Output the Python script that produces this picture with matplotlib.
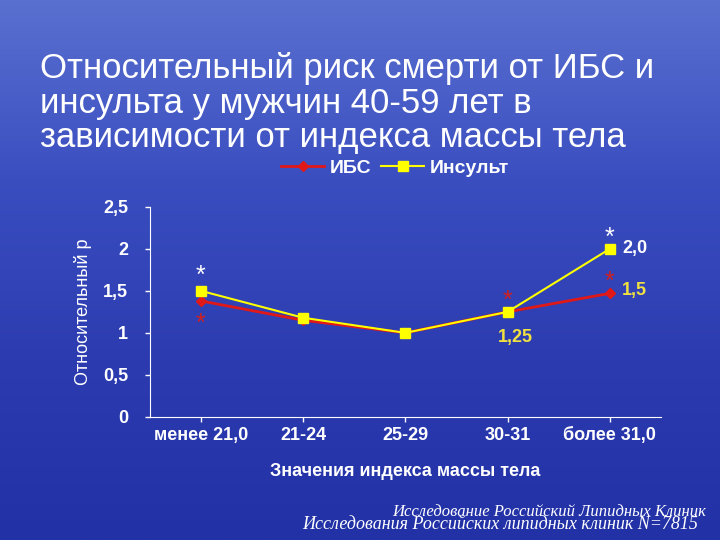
import matplotlib
matplotlib.use("Agg")
import matplotlib.pyplot as plt
import numpy as np
from matplotlib.colors import LinearSegmentedColormap

plt.rcParams["font.family"] = ["Liberation Sans", "DejaVu Sans"]

categories = ["менее 21,0", "21-24", "25-29", "30-31", "более 31,0"]
ibs = [1.38, 1.15, 1.0, 1.25, 1.47]
stroke = [1.5, 1.18, 1.0, 1.25, 2.0]
yticks = [0, 0.5, 1, 1.5, 2, 2.5]
yticklabels = ["0", "0,5", "1", "1,5", "2", "2,5"]

fig = plt.figure(figsize=(7.2, 5.4), dpi=100)
bg = fig.add_axes([0, 0, 1, 1])
cmap = LinearSegmentedColormap.from_list("bg", ["#5a70d0", "#3a4ec0", "#2c3cb0", "#2232a6"])
grad = np.linspace(0, 1, 256).reshape(-1, 1)
bg.imshow(grad, aspect="auto", cmap=cmap, extent=[0, 1, 0, 1])
bg.set_axis_off()

fig.text(0.055, 0.715, "Относительный риск смерти от ИБС и\nинсульта у мужчин 40-59 лет в\nзависимости от индекса массы тела",
         color="white", fontsize=25, linespacing=1.05, va="bottom")

ax = fig.add_axes([0.208, 0.228, 0.71, 0.389])
ax.patch.set_alpha(0)
x = np.arange(len(categories))
ax.plot(x, ibs, color="#e01818", lw=2, marker="D", ms=5, label="ИБС")
ax.plot(x, stroke, color="#ffff00", lw=1.5, marker="s", ms=7, label="Инсульт")
ax.set_xlim(-0.5, 4.5)
ax.set_ylim(0, 2.5)
ax.set_yticks(yticks)
ax.set_yticklabels(yticklabels)
ax.set_xticks(x)
ax.set_xticklabels(categories)
for s in ["top", "right"]:
    ax.spines[s].set_visible(False)
for s in ["left", "bottom"]:
    ax.spines[s].set_color("white")
ax.tick_params(colors="white", labelsize=13, width=1)
ax.tick_params(axis="y", pad=12)
for t in ax.get_xticklabels() + ax.get_yticklabels():
    t.set_fontweight("bold")
ax.set_xlabel("Значения индекса массы тела", color="white", fontsize=13, fontweight="bold", labelpad=14)
ax.set_ylabel("Относительный р", color="white", fontsize=13, labelpad=8)
ax.legend(loc="lower center", bbox_to_anchor=(0.48, 1.06), ncol=2, frameon=False,
          labelcolor="white", prop={"size": 14, "weight": "bold"}, handlelength=2.2, columnspacing=0.5, handletextpad=0.3)

ax.text(0, 1.6, "*", color="white", fontsize=18, ha="center")
ax.text(0, 1.02, "*", color="#d02020", fontsize=18, ha="center")
ax.text(3, 1.3, "*", color="#d02020", fontsize=18, ha="center")
ax.text(4, 2.05, "*", color="white", fontsize=18, ha="center")
ax.text(4, 1.52, "*", color="#d02020", fontsize=18, ha="center")
ax.text(4.12, 2.0, "2,0", color="white", fontsize=13, fontweight="bold", va="center")
ax.text(4.12, 1.5, "1,5", color="#f0e040", fontsize=13, fontweight="bold", va="center")
ax.text(2.9, 0.95, "1,25", color="#f0e040", fontsize=13, fontweight="bold", va="center")

fig.text(0.98, 0.045, "Исследование Российский Липидных Клиник", color="white", fontsize=12,
         family="Liberation Serif", style="italic", ha="right")
fig.text(0.97, 0.02, "Исследования Российских липидных клиник N=7815", color="white", fontsize=13,
         family="Liberation Serif", style="italic", ha="right")

fig.savefig("out.png", dpi=100)
